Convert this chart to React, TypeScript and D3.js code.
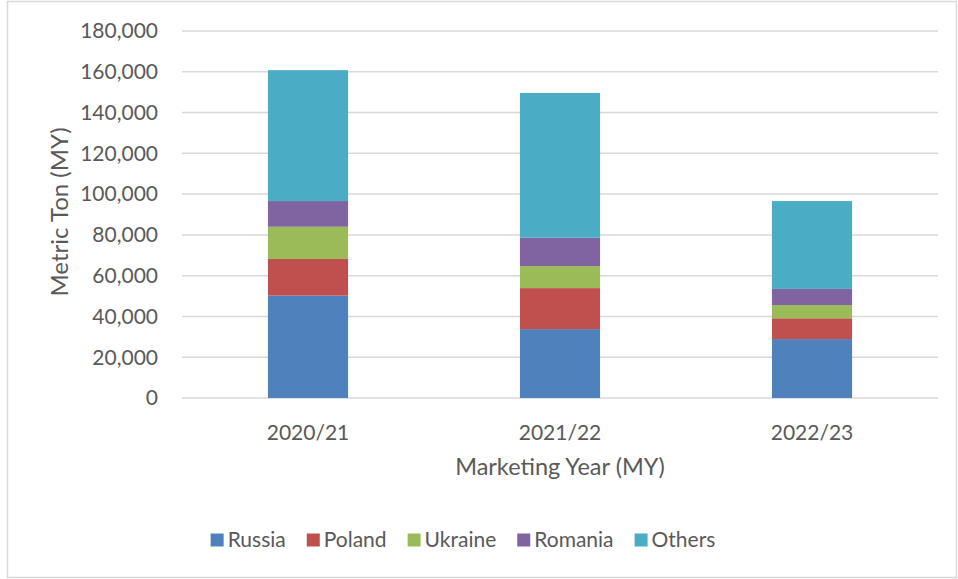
import * as d3 from 'd3'
import React, { useEffect, useRef } from 'react'

// Marketing years and export values by origin (metric tons)
const years = ['2020/21', '2021/22', '2022/23']
const russia = [50200, 33800, 28900]
const poland = [18000, 20100, 10200]
const ukraine = [15800, 10800, 6500]
const romania = [12600, 13900, 7900]
const others = [64200, 71000, 43100]

const seriesNames = ['Russia', 'Poland', 'Ukraine', 'Romania', 'Others']
const seriesColors = ['#4f81bd', '#c0504d', '#9bbb59', '#8064a2', '#4bacc6']
const yTicks = [0, 20000, 40000, 60000, 80000, 100000, 120000, 140000, 160000, 180000]

const W = 958
const H = 579
const FONT = 'Lato, "Open Sans", sans-serif'
const TEXT = '#595959'

const App = () => {
  const ref = useRef<SVGSVGElement | null>(null)

  useEffect(() => {
    document.body.style.margin = '0'
    draw()
  }, [])

  function draw() {
    const svg = d3.select(ref.current)
    svg.selectAll('*').remove()

    const margin = { top: 31, right: 20, bottom: 181, left: 182 }
    const plotW = W - margin.left - margin.right
    const plotH = H - margin.top - margin.bottom

    // outer frame
    svg.append('rect')
      .attr('x', 7.5).attr('y', 1.5)
      .attr('width', W - 9).attr('height', H - 3)
      .attr('fill', '#fff')
      .attr('stroke', '#d9d9d9')
      .attr('stroke-width', 1.5)

    const g = svg.append('g').attr('transform', `translate(${margin.left},${margin.top})`)

    const x = d3.scaleBand().domain(years).range([0, plotW]).padding(0)
    const y = d3.scaleLinear().domain([0, 180000]).range([plotH, 0])
    const barW = x.bandwidth() * 0.318

    // gridlines
    g.selectAll('line.grid')
      .data(yTicks)
      .enter()
      .append('line')
      .attr('x1', 0).attr('x2', plotW)
      .attr('y1', d => y(d)).attr('y2', d => y(d))
      .attr('stroke', '#d9d9d9')
      .attr('stroke-width', 1.5)

    // y tick labels
    g.selectAll('text.ytick')
      .data(yTicks)
      .enter()
      .append('text')
      .attr('x', -24)
      .attr('y', d => y(d))
      .attr('dy', '0.35em')
      .attr('text-anchor', 'end')
      .style('font-family', FONT)
      .style('font-size', '21px')
      .attr('fill', TEXT)
      .text(d => d3.format(',')(d))

    // stacked bars
    const rows = years.map((yr, i) => ({
      year: yr,
      Russia: russia[i],
      Poland: poland[i],
      Ukraine: ukraine[i],
      Romania: romania[i],
      Others: others[i],
    }))
    const stacked = d3.stack<any>().keys(seriesNames)(rows)

    g.selectAll('g.series')
      .data(stacked)
      .enter()
      .append('g')
      .attr('fill', (d, i) => seriesColors[i])
      .selectAll('rect')
      .data(d => d)
      .enter()
      .append('rect')
      .attr('x', d => (x(d.data.year) as number) + x.bandwidth() / 2 - barW / 2)
      .attr('y', d => y(d[1]))
      .attr('width', barW)
      .attr('height', d => y(d[0]) - y(d[1]))

    // x tick labels
    g.selectAll('text.xtick')
      .data(years)
      .enter()
      .append('text')
      .attr('x', d => (x(d) as number) + x.bandwidth() / 2)
      .attr('y', plotH + 42)
      .attr('text-anchor', 'middle')
      .style('font-family', FONT)
      .style('font-size', '21px')
      .attr('fill', TEXT)
      .text(d => d)

    // axis titles
    g.append('text')
      .attr('x', plotW / 2)
      .attr('y', plotH + 77)
      .attr('text-anchor', 'middle')
      .style('font-family', FONT)
      .style('font-size', '23.5px')
      .attr('fill', TEXT)
      .text('Marketing Year (MY)')

    svg.append('text')
      .attr('transform', `translate(68,212) rotate(-90)`)
      .attr('text-anchor', 'middle')
      .style('font-family', FONT)
      .style('font-size', '24px')
      .attr('fill', TEXT)
      .text('Metric Ton (MY)')

    // legend
    const legend = svg.append('g')
    let cx = 0
    seriesNames.forEach((name, i) => {
      const item = legend.append('g').attr('transform', `translate(${cx},0)`)
      item.append('rect')
        .attr('x', 0).attr('y', -6.5)
        .attr('width', 13).attr('height', 13)
        .attr('fill', seriesColors[i])
      const t = item.append('text')
        .attr('x', 17)
        .attr('dy', '0.35em')
        .style('font-family', FONT)
        .style('font-size', '21px')
        .attr('fill', TEXT)
        .text(name)
      const tw = (t.node() as SVGTextElement).getComputedTextLength()
      cx += 17 + tw + 21
    })
    const total = cx - 21
    legend.attr('transform', `translate(${463 - total / 2},540)`)
  }

  return <svg ref={ref} width={W} height={H} style={{ display: 'block' }} />
}

export default App
